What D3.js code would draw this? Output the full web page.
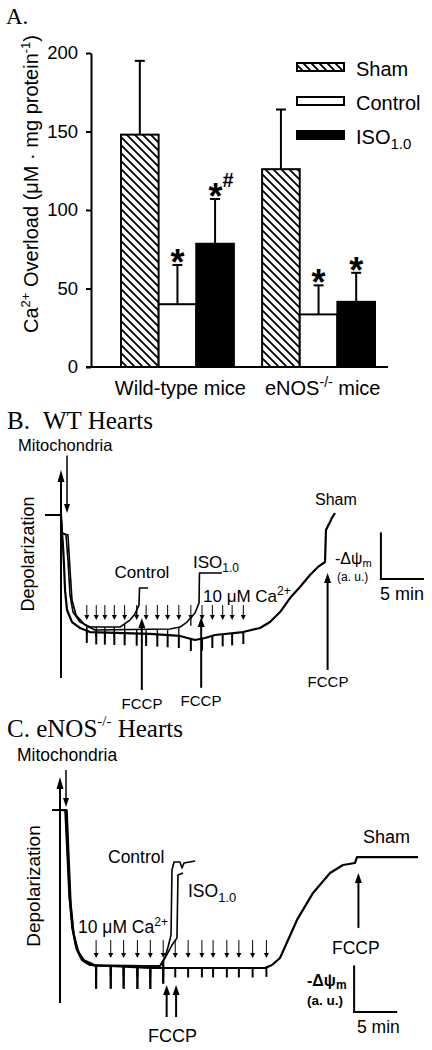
<!DOCTYPE html>
<html lang="en">
<head>
<meta charset="utf-8">
<style>
  html, body { margin: 0; padding: 0; background: #fff; }
  svg { display: block; background: #fff; }
  text { font-family: "Liberation Sans", Arial, sans-serif; fill: #000; white-space: pre; }
  text.serif { font-family: "Liberation Serif", "Times New Roman", serif; }
</style>
</head>
<body>
<div id="chart"></div>
<script src="https://cdn.jsdelivr.net/npm/d3@7"></script>
<script>
// ---------- panel A: Ca2+ overload bars ----------
var groups = ["Wild-type mice", "eNOS-/- mice"];
var conditions = ["Sham", "Control", "ISO"];
var shamMean = [148, 126];
var shamErr = [47, 38];
var controlMean = [40, 33.5];
var controlErr = [25, 18.5];
var isoMean = [78.5, 41.5];
var isoErr = [28.5, 18.5];
var controlMarks = ["*", "*"];
var isoMarks = ["*#", "*"];
var yTicksA = [0, 50, 100, 150, 200];

// ---------- panel B: WT hearts, traces as [min, a.u.] ----------
var shamB = [[0,100],[0.12,86.7],[0.23,77.8],[0.35,63],[0.47,44.4],[0.7,29.6],[1.28,20.7],[2.21,16.3],[3.37,13.3],[10.35,11.9],[13.84,10.4],[15.58,7.4],[16.74,8.9],[17.91,11.1],[21.16,13.3],[23.14,16.3],[24.3,20.7],[25.47,28.1],[26.63,38.5],[27.79,46.7],[28.95,55.6],[29.88,61.5],[30.7,65.2],[30.81,88.9],[31.28,94.8],[31.5,97.8],[31.86,101.5]];
var controlB = [[0,100],[0.12,86.7],[0.58,85.2],[0.81,66.7],[1.05,40.7],[1.4,28.1],[2.21,20.7],[3.37,17],[6.86,17],[8.02,22.2],[8.6,26.7],[9.07,33.3],[9.13,45.9],[10.12,45.9]];
var isoB = [[0,100],[0.12,86.7],[0.81,85.2],[1.05,59.3],[1.28,37],[1.74,25.9],[2.79,18.5],[3.95,14.8],[12.67,15.6],[13.84,17],[14.65,20.7],[15.58,27.4],[16.05,34.8],[16.1,57],[18.72,57]];
var caB = [3.0, 4.1, 5.1, 6.2, 7.4, 8.8, 9.9, 11.2, 12.4, 13.7, 15.1, 16.4, 17.6, 18.8, 19.9, 21.2];
var fccpB = [9.4, 16.3, 31.0];   // control, iso, sham

// ---------- panel C: eNOS-/- hearts ----------
var shamC = [[0.23,133.3],[0.7,133.3],[0.93,98.5],[1.16,66.7],[1.51,44.4],[1.98,29.6],[2.56,22.2],[3.49,18.5],[10.47,16.3],[23.84,16.3],[24.65,18.5],[25.58,23.7],[27.56,51.9],[29.42,71.9],[31.4,86.7],[32.9,92.6],[34.3,94.1],[34.53,98.5],[41.63,98.5]];
var controlC = [[0.23,133.3],[0.81,133.3],[1.05,96.3],[1.28,63],[1.63,40.7],[2.21,27.4],[2.91,20.7],[4.07,17.8],[11.63,17.8],[12.21,24.4],[12.56,31.9],[12.91,40.7],[13.02,88.9],[13.26,94.8],[13.95,94.8],[14.19,90.4],[14.42,94.1],[15.7,95.6]];
var isoC = [[0.23,133.3],[0.58,133.3],[0.81,103.7],[1.05,70.4],[1.4,45.9],[1.86,31.1],[2.79,22.2],[4.07,18.5],[11.63,17.8],[12.21,23.7],[13.02,33.3],[13.6,38.5],[13.72,85.2],[14.3,86.7]];
var caC = [4.2, 5.9, 7.4, 9.0, 10.5, 12.0, 13.4, 14.9, 16.5, 17.8, 19.4, 20.8, 22.4, 24.0];
var fccpC = [12.4, 13.5, 34.7];

var scaleMin = 5, scaleAU = 34.5;

var svg = d3.select("#chart").append("svg")
    .attr("width", 432)
    .attr("height", 1050);

var defs = svg.append("defs");
var pat = defs.append("pattern")
    .attr("id", "hatch")
    .attr("patternUnits", "userSpaceOnUse")
    .attr("width", 8)
    .attr("height", 8);
pat.append("rect").attr("width", 8).attr("height", 8).attr("fill", "#fff");
pat.append("path")
    .attr("d", "M-2,-2L10,10M-2,6L2,10M6,-2L10,2")
    .attr("stroke", "#000")
    .attr("stroke-width", 1.8);

// small helpers
function vline(g, x, y1, y2, w) {
    g.append("line").attr("x1", x).attr("x2", x).attr("y1", y1).attr("y2", y2)
        .attr("stroke", "#000").attr("stroke-width", w);
}
function hline(g, x1, x2, y, w) {
    g.append("line").attr("x1", x1).attr("x2", x2).attr("y1", y).attr("y2", y)
        .attr("stroke", "#000").attr("stroke-width", w);
}
// vertical arrow, tip at yTip
function arrow(g, x, yBase, yTip, w, head, half) {
    var dir = yTip < yBase ? 1 : -1;
    vline(g, x, yBase, yTip + dir * head * 0.7, w);
    g.append("path")
        .attr("d", "M" + x + "," + yTip + "L" + (x - half) + "," + (yTip + dir * head) +
              "L" + (x + half) + "," + (yTip + dir * head) + "Z")
        .attr("fill", "#000");
}
function label(g, x, y, size, parts, opts) {
    opts = opts || {};
    var t = g.append("text").attr("x", x).attr("y", y).attr("font-size", size);
    if (opts.anchor) t.attr("text-anchor", opts.anchor);
    if (opts.bold) t.attr("font-weight", "bold");
    if (opts.cls) t.attr("class", opts.cls);
    parts.forEach(function (p) {
        var s = t.append("tspan").text(p[0]);
        if (p[1]) s.attr("font-size", p[1]);
        if (p[2]) s.attr("dy", p[2]);
    });
    return t;
}
function valueAt(data, t) {
    var i = d3.bisector(function (d) { return d[0]; }).right(data, t);
    if (i <= 0) return data[0][1];
    if (i >= data.length) return data[data.length - 1][1];
    var a = data[i - 1], b = data[i];
    return a[1] + (b[1] - a[1]) * (t - a[0]) / (b[0] - a[0]);
}

/* ================= A ================= */
var gA = svg.append("g");
label(gA, 6, 24, 23, [["A."]], {cls: "serif"});

var x0 = d3.scaleBand().domain(groups).range([121, 375]).paddingInner(0.2);
var x1 = d3.scaleBand().domain(conditions).range([0, x0.bandwidth()]);
var yA = d3.scaleLinear().domain([0, 200]).range([367, 53]);

var meanBy = {Sham: shamMean, Control: controlMean, ISO: isoMean};
var errBy = {Sham: shamErr, Control: controlErr, ISO: isoErr};
var markBy = {Sham: ["", ""], Control: controlMarks, ISO: isoMarks};
var fillBy = {Sham: "url(#hatch)", Control: "#fff", ISO: "#000"};

var rows = [];
groups.forEach(function (g, i) {
    conditions.forEach(function (c) {
        rows.push({group: g, cond: c, mean: meanBy[c][i], err: errBy[c][i], mark: markBy[c][i]});
    });
});

function cx(d) { return x0(d.group) + x1(d.cond) + x1.bandwidth() / 2; }

// error bars (upper only)
rows.forEach(function (d) {
    vline(gA, cx(d), yA(d.mean), yA(d.mean + d.err), 2);
    hline(gA, cx(d) - 5, cx(d) + 5, yA(d.mean + d.err), 2);
});

gA.selectAll("rect.bar").data(rows).join("rect")
    .attr("class", "bar")
    .attr("x", function (d) { return x0(d.group) + x1(d.cond); })
    .attr("y", function (d) { return yA(d.mean); })
    .attr("width", x1.bandwidth())
    .attr("height", function (d) { return yA(0) - yA(d.mean); })
    .attr("fill", function (d) { return fillBy[d.cond]; })
    .attr("stroke", "#000")
    .attr("stroke-width", 2);

// significance marks
rows.filter(function (d) { return d.mark; }).forEach(function (d) {
    var yb = yA(d.mean + d.err) + 10;
    var parts = [["*"]];
    if (d.mark.indexOf("#") >= 0) parts.push(["#", 20, -22]);
    label(gA, cx(d) + (parts.length > 1 ? 6 : 0), yb, 36, parts, {anchor: "middle", bold: true});
});

var axA = gA.append("g")
    .attr("transform", "translate(91,0)")
    .call(d3.axisLeft(yA).tickValues(yTicksA).tickSize(5).tickSizeOuter(0).tickPadding(8));
axA.attr("font-family", null).attr("font-size", null);
axA.select(".domain").attr("stroke-width", 2);
axA.selectAll(".tick line").attr("stroke-width", 2);
axA.selectAll(".tick text").attr("font-size", 18.5);
hline(gA, 86, 388, yA(0), 2);

label(gA, x0("Wild-type mice") + x0.bandwidth() / 2 + 3, 395, 20, [["Wild-type mice"]], {anchor: "middle"});
label(gA, 265, 395, 20, [["eNOS"], ["-/-", 14, -8], [" mice", 20, 8]]);

label(gA, 0, 0, 20, [["Ca"], ["2+", 13, -8], [" Overload (μM · mg protein", 20, 8], ["-1", 13, -8], [")", 20, 8]],
      {anchor: "middle"}).attr("transform", "translate(38,184) rotate(-90)");

// legend
var legY = [63, 97, 131];
var legText = [[["Sham"]], [["Control"]], [["ISO"], ["1.0", 15, 5]]];
conditions.forEach(function (c, i) {
    gA.append("rect").attr("x", 297).attr("y", legY[i]).attr("width", 47).attr("height", 8)
        .attr("fill", fillBy[c]).attr("stroke", "#000").attr("stroke-width", 2);
    label(gA, 356, legY[i] + 13, 20, legText[i]);
});

/* ================= trace panels ================= */
function tracePanel(g, x, y, traces, caTimes, fccp, o) {
    var line = d3.line().x(function (d) { return x(d[0]); }).y(function (d) { return y(d[1]); });
    traces.forEach(function (tr, k) {
        caTimes.filter(function (t) { return t < fccp[k] - 0.3; }).forEach(function (t) {
            var v = valueAt(tr.data, t);
            vline(g, x(t), y(v), y(v - tr.spike), tr.sw);
        });
        g.append("path")
            .attr("d", line(tr.data))
            .attr("fill", "none")
            .attr("stroke", "#000")
            .attr("stroke-width", tr.w)
            .attr("stroke-linejoin", "round");
    });
    // Ca2+ additions
    caTimes.forEach(function (t) {
        arrow(g, x(t), y(o.caTop), y(o.caTip), 1, 5, 2.5);
    });
    // FCCP
    fccp.forEach(function (t, k) {
        arrow(g, x(t), y(o.fccpBase[k]), y(o.fccpTip[k]), 2, 10, 3.5);
    });
    // scale bar
    var sx = x(o.barT), sy = y(o.barV);
    vline(g, sx, sy + 1, y(o.barV + scaleAU), 2);
    hline(g, sx - 1, x(o.barT + scaleMin), sy, 2);
}

/* ---- B ---- */
var gB = svg.append("g");
var xB = d3.scaleLinear().domain([0, 5]).range([61, 104]);
var yB = d3.scaleLinear().domain([0, 100]).range([650, 515]);
label(gB, 7, 429, 25, [["B."]], {cls: "serif"});
label(gB, 43, 429, 25, [["WT Hearts"]], {cls: "serif"});
label(gB, 18, 451, 16.5, [["Mitochondria"]]);
label(gB, 0, 0, 18, [["Depolarization"]], {anchor: "middle"}).attr("transform", "translate(34,554) rotate(-90)");

arrow(gB, xB(0), yB(-20.7), yB(133.3), 2, 12, 3.5);
arrow(gB, xB(0.7), yB(144), yB(101.5), 1.5, 9, 3);
hline(gB, xB(-1.86), xB(0.12), yB(100), 2);

tracePanel(gB, xB, yB,
    [{data: controlB, w: 1.6, spike: 6, sw: 1.3},
     {data: isoB, w: 1.6, spike: 6, sw: 1.3},
     {data: shamB, w: 2.2, spike: 9, sw: 2}],
    caB, fccpB,
    {caTop: 33.3, caTip: 22.2, fccpBase: [-29.6, -28, -14.8], fccpTip: [23.7, 24.4, 57],
     barT: 37.2, barV: 52.6});

label(gB, 142, 578, 17, [["Control"]], {anchor: "middle"});
label(gB, 193, 568, 17, [["ISO"], ["1.0", 12, 4]]);
label(gB, 203, 602, 17, [["10 μM Ca"], ["2+", 12, -7]]);
label(gB, 315, 505, 16, [["Sham"]]);
label(gB, 335, 564, 16, [["-Δψ"], ["m", 11, 3]]);
label(gB, 337, 581, 12, [["(a. u.)"]]);
label(gB, 380, 600, 18, [["5 min"]]);
label(gB, 142, 709, 15, [["FCCP"]], {anchor: "middle"});
label(gB, 201, 706, 15, [["FCCP"]], {anchor: "middle"});
label(gB, 328, 687, 15, [["FCCP"]], {anchor: "middle"});

/* ---- C ---- */
var gC = svg.append("g");
var xC = d3.scaleLinear().domain([0, 5]).range([60, 103]);
var yC = d3.scaleLinear().domain([0, 100]).range([990, 855]);
label(gC, 7, 737, 25, [["C. eNOS"], ["-/-", 15, -11], [" Hearts", 25, 11]], {cls: "serif"});
label(gC, 17, 761, 17.5, [["Mitochondria"]]);
label(gC, 0, 0, 19, [["Depolarization"]], {anchor: "middle"}).attr("transform", "translate(40,886) rotate(-90)");

arrow(gC, xC(0), yC(-9.6), yC(157.8), 2, 12, 3.5);
arrow(gC, xC(0.7), yC(163), yC(135.6), 1.5, 9, 3);
hline(gC, xC(-0.93), xC(0.58), yC(133.3), 2);

tracePanel(gC, xC, yC,
    [{data: controlC, w: 1.6, spike: 17, sw: 2},
     {data: isoC, w: 1.6, spike: 17, sw: 2},
     {data: shamC, w: 2.2, spike: 7, sw: 2}],
    caC, fccpC,
    {caTop: 37, caTip: 23.7, fccpBase: [-20, -20, 46], fccpTip: [3.7, 3.7, 86.7],
     barT: 34.2, barV: -16.3});

label(gC, 108, 863, 17.5, [["Control"]]);
label(gC, 188, 897, 17.5, [["ISO"], ["1.0", 13, 5]]);
label(gC, 78, 933, 17.5, [["10 μM Ca"], ["2+", 12, -7]]);
label(gC, 363, 843, 18, [["Sham"]]);
label(gC, 332, 954, 17.5, [["FCCP"]]);
label(gC, 148, 1042, 18, [["FCCP"]]);
label(gC, 307, 986, 16, [["-Δψ"], ["m", 12, 3]], {bold: true});
label(gC, 307, 1005, 13.5, [["(a. u.)"]], {bold: true});
label(gC, 357, 1033, 17.5, [["5 min"]]);
</script>
</body>
</html>
